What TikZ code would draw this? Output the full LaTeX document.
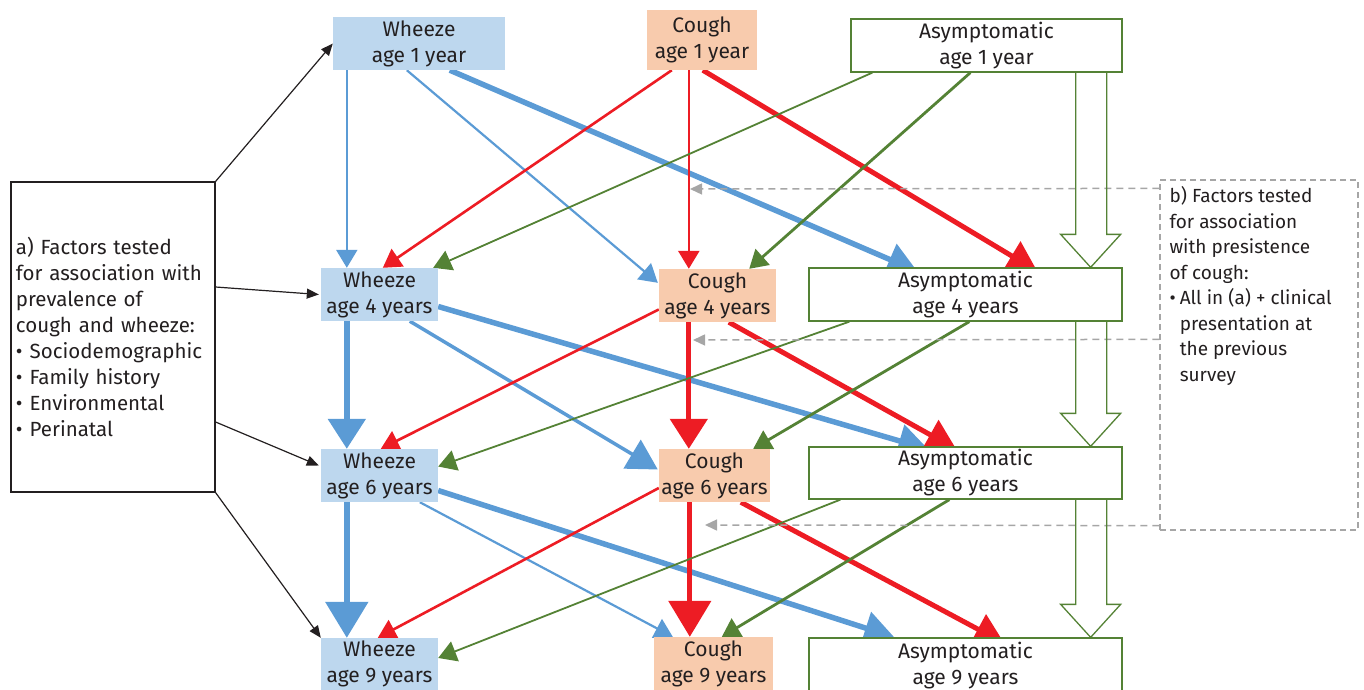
\documentclass[tikz,border=0pt]{standalone}
\usepackage{fontspec}
\setmainfont{Fira Sans}
\usetikzlibrary{arrows.meta,calc}
\definecolor{wblue}{HTML}{5B9BD5}
\definecolor{wfill}{HTML}{BDD7EE}
\definecolor{cfill}{HTML}{F8CBAD}
\definecolor{cred}{HTML}{ED1C24}
\definecolor{agreen}{HTML}{548235}
\definecolor{dgray}{HTML}{A6A6A6}
\definecolor{txt}{HTML}{231F20}
\pgfdeclarelayer{bg}
\pgfsetlayers{bg,main}
\newcommand{\hollowarr}[2]{%
  \draw[hollow] ($(#1.south east)+(-47,0)$) -- ($(#2.north east)+(-47,-33)$)
    -- ($(#2.north east)+(-62,-33)$) -- ($(#2.north east)+(-32,0)$)
    -- ($(#2.north east)+(-2,-33)$) -- ($(#2.north east)+(-16,-33)$)
    -- ($(#1.south east)+(-16,0)$);}
\newcommand{\bul}{•\hspace{4pt}}
\newcommand{\bulA}{•\hspace{7pt}}
\newcommand{\bulind}{\hphantom{•}\hspace{4pt}}
\begin{document}
\begin{tikzpicture}[x=1pt,y=-1pt,
  txtfont/.style={font=\fontsize{21}{26}\selectfont},
  box/.style={rectangle, inner sep=0pt, align=center, text=txt, txtfont},
  wbox/.style={box, fill=wfill},
  cbox/.style={box, fill=cfill},
  abox/.style={box, fill=white, draw=agreen, line width=1.3pt},
  hollow/.style={draw=agreen, line width=1.3pt, line join=miter},
  tipS/.style={-{Triangle[length=18pt,width=21pt]}},
  tipM/.style={-{Triangle[length=30pt,width=33pt]}},
  tipL/.style={-{Triangle[length=30pt,width=37pt]}},
  tipXL/.style={-{Triangle[length=36pt,width=42pt]}},
  bthin/.style={draw=wblue, line width=2.2pt},
  bmed/.style={draw=wblue, line width=3.5pt},
  bthick/.style={draw=wblue, line width=5.5pt},
  rmed/.style={draw=cred, line width=2.6pt},
  rthick/.style={draw=cred, line width=5pt},
  gthin/.style={draw=agreen, line width=1.8pt},
  gmed/.style={draw=agreen, line width=2.8pt},
  blk/.style={draw=txt, line width=1.2pt, -{Triangle[length=12pt,width=10pt]}},
  gd/.style={draw=dgray, line width=1.5pt, dash pattern=on 7pt off 5pt, -{Triangle[length=12pt,width=11pt]}}
]
\useasboundingbox (0,0) rectangle (1364,690);

% nodes
\node[wbox, minimum width=172pt, minimum height=53pt] (W1) at (419,43.5) {Wheeze\\age 1 year};
\node[cbox, minimum width=110pt, minimum height=60pt] (C1) at (702,40) {Cough\\age 1 year};
\node[abox, minimum width=271pt, minimum height=53pt] (A1) at (986.5,45.5) {Asymptomatic\\age 1 year};

\node[wbox, minimum width=117pt, minimum height=53pt] (W4) at (379.5,294.5) {Wheeze\\age 4 years};
\node[cbox, minimum width=117pt, minimum height=53pt] (C4) at (717.5,295.5) {Cough\\age 4 years};
\node[abox, minimum width=313pt, minimum height=53pt] (A4) at (965.5,294.5) {Asymptomatic\\age 4 years};

\node[wbox, minimum width=117pt, minimum height=53pt] (W6) at (379.5,475.5) {Wheeze\\age 6 years};
\node[cbox, minimum width=111pt, minimum height=53pt] (C6) at (714.5,475.5) {Cough\\age 6 years};
\node[abox, minimum width=313pt, minimum height=52pt] (A6) at (965.5,473) {Asymptomatic\\age 6 years};

\node[wbox, minimum width=117pt, minimum height=52pt] (W9) at (379.5,664) {Wheeze\\age 9 years};
\node[cbox, minimum width=119pt, minimum height=53pt] (C9) at (713.5,663.5) {Cough\\age 9 years};
\node[abox, minimum width=313pt, minimum height=56pt] (A9) at (965.5,666) {Asymptomatic\\age 9 years};

\node[draw=txt, line width=1.2pt, fill=white, minimum width=204pt, minimum height=310pt,
      text width=194pt, align=left, inner sep=0pt, text=txt,
      font=\fontsize{20.5}{26}\selectfont] (FA) at (113,337)
  {a) Factors tested\\for association with\\prevalence of\\cough and wheeze:\\%
   \bulA Sociodemographic\\\bulA Family history\\\bulA Environmental\\\bulA Perinatal};

\node[draw=dgray, line width=1.2pt, dash pattern=on 6pt off 4pt, minimum width=198pt,
      minimum height=350pt, inner sep=0pt] (FB) at (1259,355) {};
\node[anchor=north west, inner sep=0pt, align=left, text=txt,
      font=\fontsize{19}{25.5}\selectfont] (FBt)
  at ($(FB.north west)+(10,7)$)
  {b) Factors tested\\for association\\with presistence\\of cough:\\%
   \bul All in (a) + clinical\\\bulind presentation at\\\bulind the previous\\\bulind survey};

\coordinate (g1) at (690,189);
\coordinate (g2) at (693,340);
\coordinate (g3) at (705,525);

% hollow arrows
\hollowarr{A1}{A4}
\hollowarr{A4}{A6}
\hollowarr{A6}{A9}

\begin{pgfonlayer}{bg}
% black
\draw[blk] (FA.north east) -- (W1.west);
\draw[blk] ($(FA.east)+(0,-50)$) -- ($(W4.west)+(-2,0)$);
\draw[blk] ($(FA.east)+(0,85)$) -- ($(W6.west)+(-2,-10)$);
\draw[blk] (FA.south east) -- (W9.north west);

% blue
\draw[bthin, tipS] ($(W1.south west)+(14,0)$) -- ($(W4.north west)+(26,0)$);
\draw[bthin, tipS] ($(W1.south west)+(74,0)$) -- ($(C4.north west)+(-1,14)$);
\draw[bthick, tipM] ($(W1.south west)+(117,0)$) -- ($(A4.north west)+(109,4)$);
\draw[bthick, tipL] ($(W4.south west)+(26,0)$) -- ($(W6.north west)+(26,0)$);
\draw[bmed, tipM] ($(W4.south west)+(89,0)$) -- ($(C6.west)+(-1,-6)$);
\draw[bthick, tipM] ($(W4.east)+(0,12)$) -- ($(A6.north west)+(120,3)$);
\draw[bthick, tipXL] ($(W6.south west)+(26,0)$) -- ($(W9.north west)+(26,0)$);
\draw[bthin, tipS] ($(W6.south west)+(99,0)$) -- ($(C9.north west)+(19,0)$);
\draw[bthick, tipM] ($(W6.east)+(0,15)$) -- ($(A9.north west)+(86,0)$);

% red
\draw[rmed, tipS] ($(C1.south west)+(25,0)$) -- ($(W4.north west)+(62,0)$);
\draw[rmed, tipS] ($(C1.south west)+(42,0)$) -- ($(C4.north west)+(30,0)$);
\draw[rthick, tipM] ($(C1.south west)+(56,0)$) -- ($(A4.north west)+(229,4)$);
\draw[rmed, tipS] ($(C4.west)+(0,14)$) -- ($(W6.north west)+(60,0)$);
\draw[rthick, tipL] ($(C4.south west)+(30,0)$) -- ($(C6.north west)+(30,0)$);
\draw[rthick, tipM] ($(C4.south west)+(70,0)$) -- ($(A6.north west)+(148,3)$);
\draw[rmed, tipS] ($(C6.west)+(0,12.5)$) -- ($(W9.north west)+(57,0)$);
\draw[rthick, tipXL] ($(C6.south west)+(31,0)$) -- ($(C9.north west)+(36,0)$);
\draw[rthick, tipM] ($(C6.south west)+(82,0)$) -- ($(A9.north west)+(196,6)$);

% green
\draw[gthin, tipS] ($(A1.south west)+(22,0)$) -- ($(W4.north east)+(-5,0)$);
\draw[gmed, tipS] ($(A1.south west)+(120,0)$) -- ($(C4.north east)+(-27,0)$);
\draw[gthin, tipS] ($(A4.south west)+(41,0)$) -- ($(W6.east)+(0,-9)$);
\draw[gmed, tipS] ($(A4.south west)+(161,0)$) -- ($(C6.north east)+(-17,0)$);
\draw[gthin, tipS] ($(A6.south west)+(32,0)$) -- ($(W9.east)+(0,-6)$);
\draw[gmed, tipS] ($(A6.south west)+(141,0)$) -- ($(C9.north west)+(68,0)$);

% gray dashed
\draw[gd] ($(FB.north west)+(0,9)$) -- (g1);
\draw[gd] ($(FB.north west)+(0,160)$) -- (g2);
\draw[gd] ($(FB.south west)+(0,-5)$) -- (g3);
\end{pgfonlayer}
\end{tikzpicture}
\end{document}
